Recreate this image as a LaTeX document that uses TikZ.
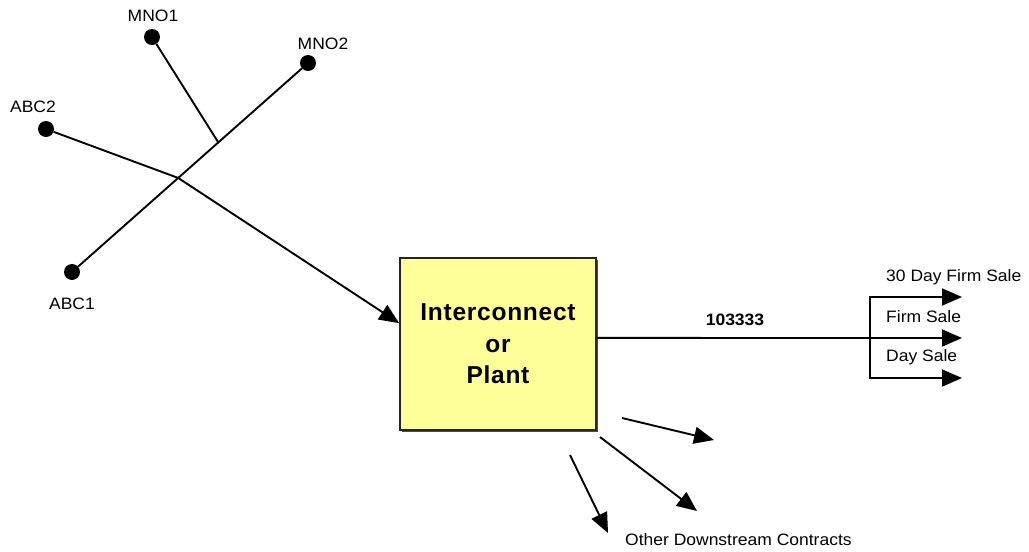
\documentclass[tikz,border=0pt]{standalone}
\usepackage{fontspec}
\setmainfont{Liberation Sans}[FakeStretch=1.06]
\newfontfamily\boxfont{Liberation Sans}[LetterSpace=3]
\usetikzlibrary{arrows.meta, positioning, calc, shadows}
\definecolor{plantfill}{HTML}{FFFF99}

\tikzset{
  feed/.style={line width=1.9pt},
  flow/.style={line width=1.9pt, -{Triangle[length=20pt,width=17pt]}},
  src/.style={circle, fill=black, inner sep=0pt, minimum size=16pt},
  lbl/.style={font=\fontsize{16.5}{19}\selectfont, inner sep=1pt}
}

\begin{document}
\begin{tikzpicture}[x=1pt, y=-1pt]
\useasboundingbox (0,0) rectangle (1029,552);
% supply points
\node[src] (mno1) at (152,37) {};
\node[src] (mno2) at (308,63) {};
\node[src] (abc2) at (46,129) {};
\node[src] (abc1) at (72,272) {};
\node[lbl] at (153,16) {MNO1};
\node[lbl] at (323,44) {MNO2};
\node[lbl] at (33,107) {ABC2};
\node[lbl] at (72,304) {ABC1};

% plant
\node[rectangle, draw=black!85, line width=1.6pt, fill=plantfill, minimum width=196pt, minimum height=172pt,
  drop shadow={shadow xshift=1.5pt, shadow yshift=-1.5pt, fill=black!70, opacity=1},
  align=center, font=\boxfont\bfseries\fontsize{24.5}{31.5}\selectfont] (plant) at (498,344) {Interconnect\\or\\Plant};

\draw[feed] (abc1) -- (mno2);
\coordinate (join) at ($(abc1)!0.62!(mno2)$);
\coordinate (cross) at ($(abc1)!0.45!(mno2)$);
\draw[feed] (mno1) -- (join);
\draw[flow] (abc2) -- (cross) -- ($(plant.north west)!0.38!(plant.south west)$);

% sales
\coordinate (exit) at ($(plant.north east)!0.465!(plant.south east)$);
\coordinate (split) at (870,338);
\coordinate (out1) at (962,297);
\coordinate (out2) at (962,338);
\coordinate (out3) at (962,378);
\draw[flow] (exit) -- (out2);
\draw[flow] (split) |- (out1);
\draw[flow] (split) |- (out3);
\node[lbl, font=\bfseries\fontsize{16.5}{19}\selectfont] (vol) at (735,320) {103333};
\node[lbl, anchor=west] at (885,277) {30 Day Firm Sale};
\node[lbl, anchor=west] at (885,317) {Firm Sale};
\node[lbl, anchor=west] at (885,357) {Day Sale};

% downstream
\coordinate (d1s) at (622,418);
\coordinate (d1e) at (714,440);
\coordinate (d2s) at (600,437);
\coordinate (d2e) at (697,511);
\coordinate (d3s) at (570,455);
\coordinate (d3e) at (608,533);
\draw[flow] (d1s) -- (d1e);
\draw[flow] (d2s) -- (d2e);
\draw[flow] (d3s) -- (d3e);
\node[lbl, anchor=west] (other) at (624,540) {Other Downstream Contracts};
\end{tikzpicture}
\end{document}
